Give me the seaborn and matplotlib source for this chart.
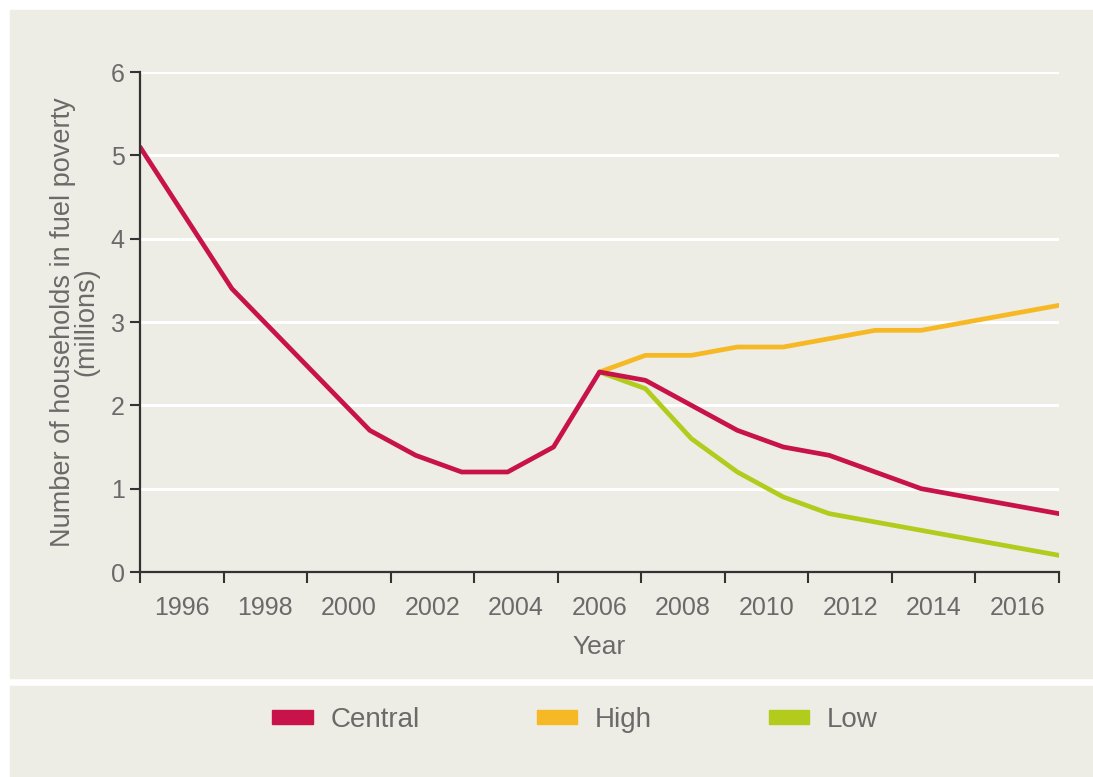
import matplotlib
matplotlib.use("Agg")
import matplotlib.pyplot as plt
import matplotlib.patches as mpatches
import numpy as np
import pandas as pd
import seaborn as sns

# data
years_central = [1996, 1998, 2001, 2002, 2003, 2004, 2005, 2006, 2007, 2008,
                 2009, 2010, 2011, 2012, 2013, 2014, 2015, 2016]
central = [5.1, 3.4, 1.7, 1.4, 1.2, 1.2, 1.5, 2.4, 2.3, 2.0,
           1.7, 1.5, 1.4, 1.2, 1.0, 0.9, 0.8, 0.7]
years_proj = [2006, 2007, 2008, 2009, 2010, 2011, 2012, 2013, 2014, 2015, 2016]
high = [2.4, 2.6, 2.6, 2.7, 2.7, 2.8, 2.9, 2.9, 3.0, 3.1, 3.2]
low = [2.4, 2.2, 1.6, 1.2, 0.9, 0.7, 0.6, 0.5, 0.4, 0.3, 0.2]
year_labels = ['1996', '1998', '2000', '2002', '2004', '2006',
               '2008', '2010', '2012', '2014', '2016']

scenarios = ['Central', 'High', 'Low']
colors = {'Central': '#c8124a', 'High': '#f6b925', 'Low': '#b3cb1d'}

df = pd.concat([
    pd.DataFrame({'Year': years_proj, 'Households': high, 'Scenario': 'High'}),
    pd.DataFrame({'Year': years_proj, 'Households': low, 'Scenario': 'Low'}),
    pd.DataFrame({'Year': years_central, 'Households': central, 'Scenario': 'Central'}),
])

bg = '#edede5'
txt = '#6a6a6a'
sns.set_style('white', {'axes.facecolor': bg})
plt.rcParams['font.family'] = ['Liberation Sans', 'DejaVu Sans']

fig = plt.figure(figsize=(10.93, 7.77), dpi=100, facecolor='white')
# beige panels behind the chart and the legend
fig.patches.append(mpatches.Rectangle((10/1093, 99/777), 1 - 10/1093, 668/777,
                                      transform=fig.transFigure, color=bg, zorder=-1))
fig.patches.append(mpatches.Rectangle((10/1093, 0), 1 - 10/1093, 91/777,
                                      transform=fig.transFigure, color=bg, zorder=-1))

ax = fig.add_axes([140/1093, 1 - 572/777, 919/1093, 500/777])
sns.lineplot(data=df, x='Year', y='Households', hue='Scenario',
             hue_order=['High', 'Low', 'Central'], palette=colors,
             linewidth=3.4, legend=False, ax=ax, sort=False)

ax.set_xlim(1996, 2016)
ax.set_ylim(0, 6)
ax.set_yticks(range(0, 7))
for y in range(1, 7):
    ax.axhline(y, color='white', lw=2.2, zorder=0)

# ticks between labels, labels between ticks
ax.set_xticks(np.linspace(1996, 2016, 12))
ax.set_xticklabels([])
ax.set_xticks(np.linspace(1996, 2016, 12)[:-1] + 20/22, minor=True)
ax.set_xticklabels(year_labels, minor=True)
ax.tick_params(axis='x', which='major', bottom=True, length=8, width=1.5,
               color='#333333', direction='out')
ax.tick_params(axis='x', which='minor', bottom=True, length=0, pad=17,
               labelsize=18, labelcolor=txt)
ax.tick_params(axis='y', left=True, length=7, width=1.5, color='#333333', pad=4,
               labelsize=18, labelcolor=txt)

for s in ['top', 'right']:
    ax.spines[s].set_visible(False)
for s in ['left', 'bottom']:
    ax.spines[s].set_color('#333333')
    ax.spines[s].set_linewidth(1.6)

ax.set_xlabel('Year', fontsize=19, color=txt, labelpad=11)
ax.set_ylabel('Number of households in fuel poverty\n(millions)', fontsize=19.5,
              color=txt, labelpad=8, linespacing=0.9)

handles = [mpatches.Patch(color=colors[s], label=s) for s in scenarios]
fig.legend(handles=handles, loc='center', bbox_to_anchor=(575/1093, 1 - 720/777),
           ncol=3, frameon=False, fontsize=20, labelcolor=txt,
           handlelength=1.45, handleheight=0.36, handletextpad=0.65, columnspacing=4.2)

fig.savefig('out.png', dpi=100, facecolor='white')
